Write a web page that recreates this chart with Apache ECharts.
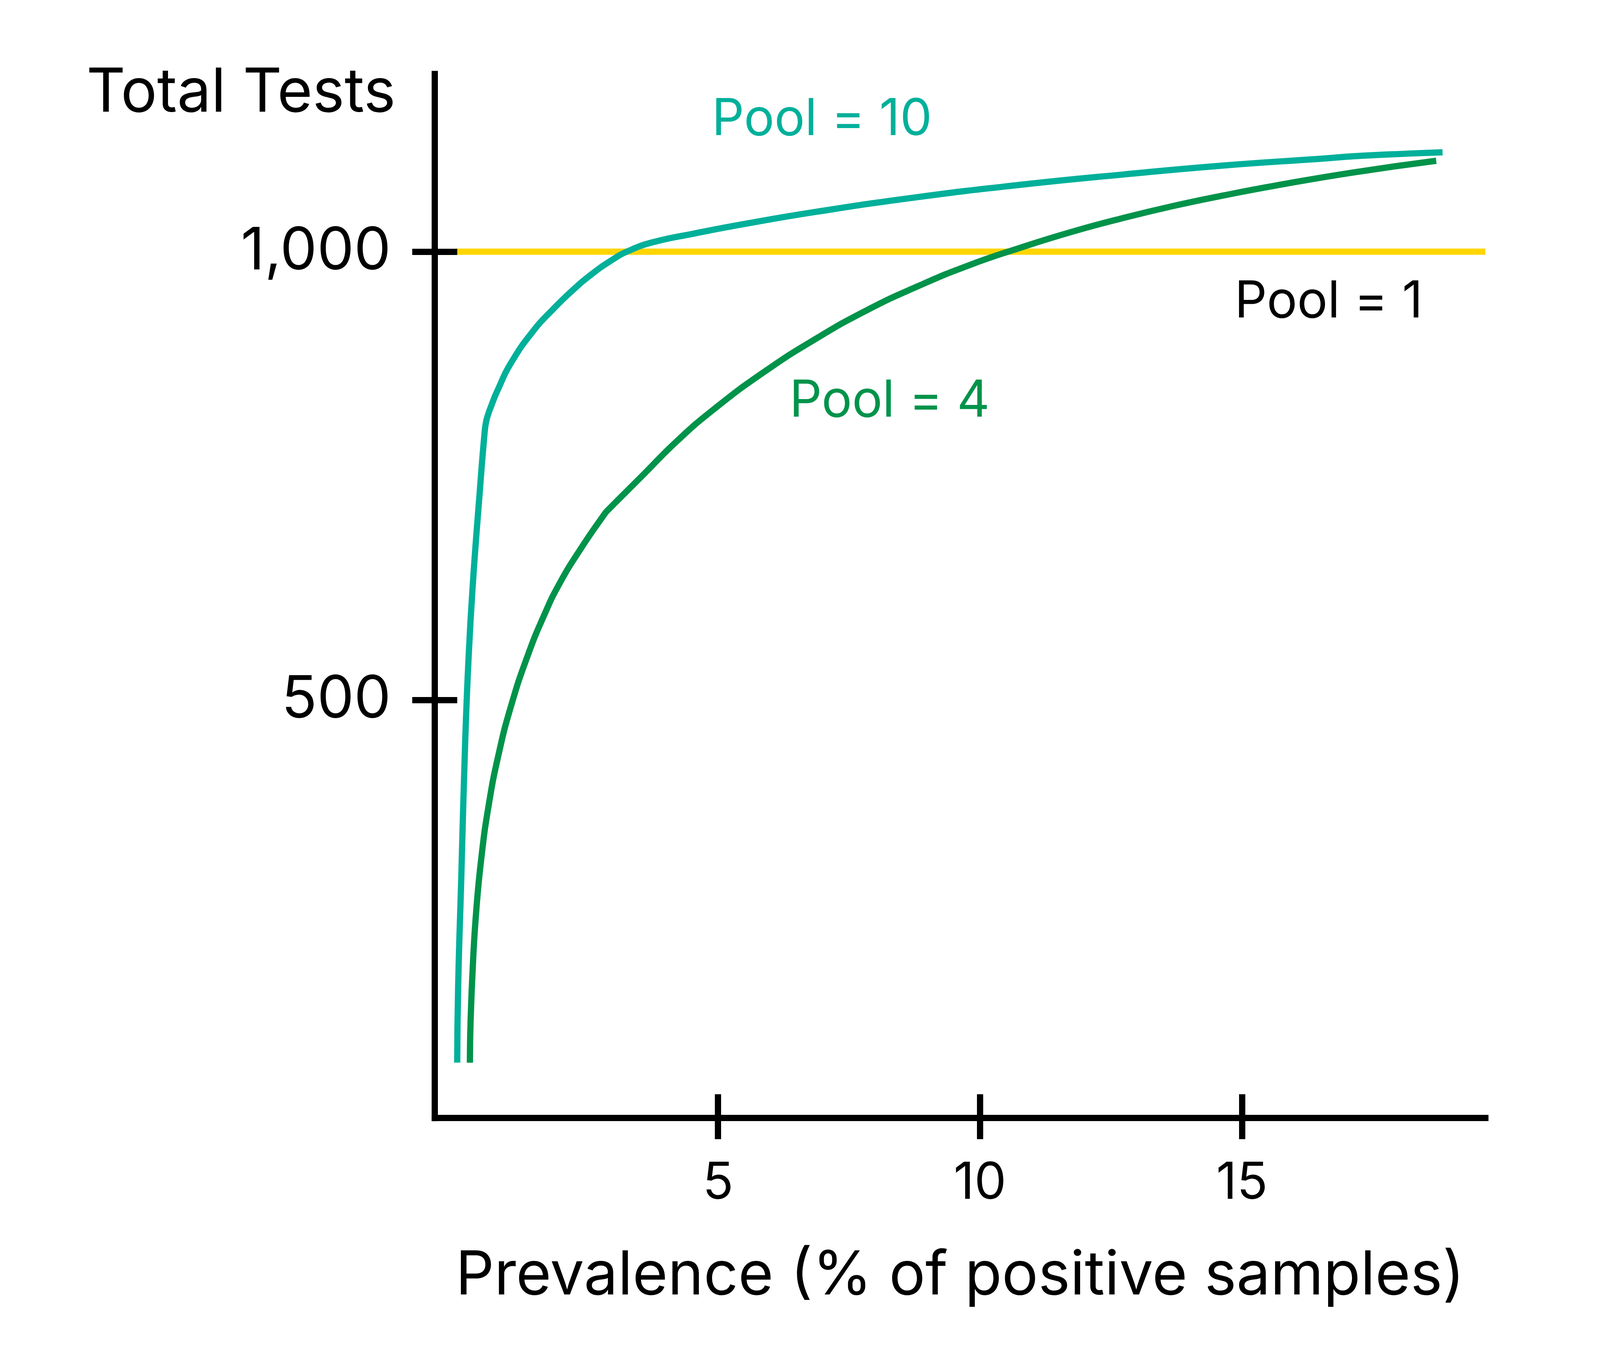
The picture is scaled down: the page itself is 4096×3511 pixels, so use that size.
<!DOCTYPE html>
<html><head><meta charset="utf-8">
<script src="https://cdn.jsdelivr.net/npm/echarts@6/dist/echarts.min.js"></script>
<style>html,body{margin:0;padding:0;background:#fff}#c{width:4096px;height:3511px}</style>
</head><body><div id="c"></div>
<script>
// ---- data ----
const pool10X = [0.022, 0.040, 0.100, 0.172, 0.239, 0.319, 0.452, 0.549, 0.577, 0.612, 0.654, 0.786, 1.066, 1.503, 1.810, 2.200, 2.589, 2.979, 3.271, 3.757, 4.536, 5.510, 6.873, 8.820, 10.767, 12.714, 14.661, 16.608, 17.114, 18.166, 18.828];
const pool10Y = [96.0, 180.5, 302.7, 449.4, 547.2, 628.6, 732.1, 800.9, 811.2, 818.5, 825.4, 844.6, 877.6, 913.8, 933.3, 955.6, 974.9, 990.8, 1000.3, 1010.5, 1020.1, 1030.9, 1044.4, 1060.9, 1074.5, 1085.9, 1096.1, 1104.0, 1106.3, 1109.3, 1110.8];
const pool4X = [0.264, 0.278, 0.325, 0.387, 0.481, 0.615, 0.802, 1.051, 1.374, 1.692, 1.966, 2.355, 2.842, 2.901, 3.563, 4.206, 4.926, 5.899, 6.873, 7.846, 8.820, 9.793, 10.767, 11.741, 12.714, 13.688, 14.661, 15.635, 17.115, 18.707];
const pool4Y = [95.9, 143.7, 209.6, 266.4, 323.3, 380.1, 437.0, 493.8, 550.7, 596.1, 629.1, 666.6, 708.2, 712.1, 750.7, 788.3, 824.6, 866.7, 903.1, 934.9, 961.6, 984.9, 1004.3, 1021.9, 1037.2, 1050.9, 1062.8, 1073.6, 1088.2, 1101.3];
const pool1X = [0, 19.645];
const pool1Y = [1000, 1000];
const xTicks = [5, 10, 15];
const xTickLabels = ['5', '10', '15'];
const yTicks = [500, 1000];
const yTickLabels = ['500', '1,000'];
const seriesNames = ['Pool = 10', 'Pool = 4', 'Pool = 1'];
const xAxisName = 'Prevalence (% of positive samples)';
const yAxisName = 'Total Tests';

// ---- styling ----
const FONT = 'Inter';
const TEAL = '#00B09A', GREEN = '#00934A', YELLOW = '#FFD500', BLACK = '#000000';
const AXW = 16;
const X_MIN = -0.407, X_MAX = 19.645, Y_MIN = 34.2, Y_MAX = 1198;

function zip(xs, ys) { return xs.map((x, i) => [x, ys[i]]); }
function xFmt(v) { const i = xTicks.indexOf(v); return i >= 0 ? xTickLabels[i] : ''; }
function yFmt(v) { const i = yTicks.indexOf(v); return i >= 0 ? yTickLabels[i] : ''; }

const chart = echarts.init(document.getElementById('c'), null, {renderer: 'canvas', width: 4096, height: 3511});

const baseX = {type: 'value', min: X_MIN, max: X_MAX, position: 'bottom', z: 10, splitLine: {show: false}, axisPointer: {show: false}};
const baseY = {type: 'value', min: Y_MIN, max: Y_MAX, position: 'left', z: 10, splitLine: {show: false}, axisPointer: {show: false}};

function labelPoint(coord, text, color) {
  return {
    symbol: 'circle', symbolSize: 0, silent: true, animation: false,
    data: [{coord: coord}],
    label: {show: true, position: 'inside', formatter: text, color: color, fontSize: 130, fontFamily: FONT}
  };
}

const option = {
  animation: false,
  backgroundColor: '#ffffff',
  grid: {left: 1112.9, right: 293.5, top: 189.6, bottom: 647.8, containLabel: false, outerBoundsMode: 'none'},
  xAxis: [
    Object.assign({}, baseX, {
      axisLine: {show: true, onZero: false, lineStyle: {color: BLACK, width: AXW, cap: 'square'}},
      axisTick: {show: true, inside: false, length: 54, customValues: xTicks, lineStyle: {color: BLACK, width: AXW}},
      axisLabel: {show: true, customValues: xTicks, formatter: xFmt, margin: 103, color: BLACK, fontSize: 130, fontFamily: FONT},
      name: xAxisName, nameLocation: 'middle', nameGap: 328, nameMoveOverlap: false,
      nameTextStyle: {color: BLACK, fontSize: 155, fontFamily: FONT}
    }),
    Object.assign({}, baseX, {
      axisLine: {show: false, onZero: false},
      axisTick: {show: true, inside: true, length: 61, customValues: xTicks, lineStyle: {color: BLACK, width: AXW}},
      axisLabel: {show: false}
    })
  ],
  yAxis: [
    Object.assign({}, baseY, {
      axisLine: {show: true, onZero: false, lineStyle: {color: BLACK, width: AXW, cap: 'square'}},
      axisTick: {show: true, inside: false, length: 57.6, customValues: yTicks, lineStyle: {color: BLACK, width: AXW}},
      axisLabel: {show: true, customValues: yTicks, formatter: yFmt, margin: 112, color: BLACK, fontSize: 150, fontFamily: FONT},
      name: yAxisName, nameLocation: 'end', nameGap: -50, nameMoveOverlap: false,
      nameTextStyle: {color: BLACK, fontSize: 155, fontFamily: FONT, align: 'right', verticalAlign: 'middle', padding: [0, 100, 0, 0]}
    }),
    Object.assign({}, baseY, {
      axisLine: {show: false, onZero: false},
      axisTick: {show: true, inside: true, length: 57.6, customValues: yTicks, lineStyle: {color: BLACK, width: AXW}},
      axisLabel: {show: false}
    })
  ],
  series: [
    {
      name: seriesNames[2], type: 'line', xAxisIndex: 0, yAxisIndex: 0, z: 2,
      data: zip(pool1X, pool1Y), showSymbol: false, symbol: 'none',
      lineStyle: {color: YELLOW, width: AXW},
      markPoint: labelPoint([16.655, 943.6], seriesNames[2], BLACK)
    },
    {
      name: seriesNames[1], type: 'line', xAxisIndex: 0, yAxisIndex: 0, z: 3,
      data: zip(pool4X, pool4Y), showSymbol: false, symbol: 'none', smooth: 0.5,
      lineStyle: {color: GREEN, width: AXW},
      markPoint: labelPoint([8.274, 833.2], seriesNames[1], GREEN)
    },
    {
      name: seriesNames[0], type: 'line', xAxisIndex: 0, yAxisIndex: 0, z: 4,
      data: zip(pool10X, pool10Y), showSymbol: false, symbol: 'none', smooth: 0.5,
      lineStyle: {color: TEAL, width: AXW},
      markPoint: labelPoint([6.983, 1146.9], seriesNames[0], TEAL)
    }
  ]
};
chart.setOption(option);
</script>
</body></html>
